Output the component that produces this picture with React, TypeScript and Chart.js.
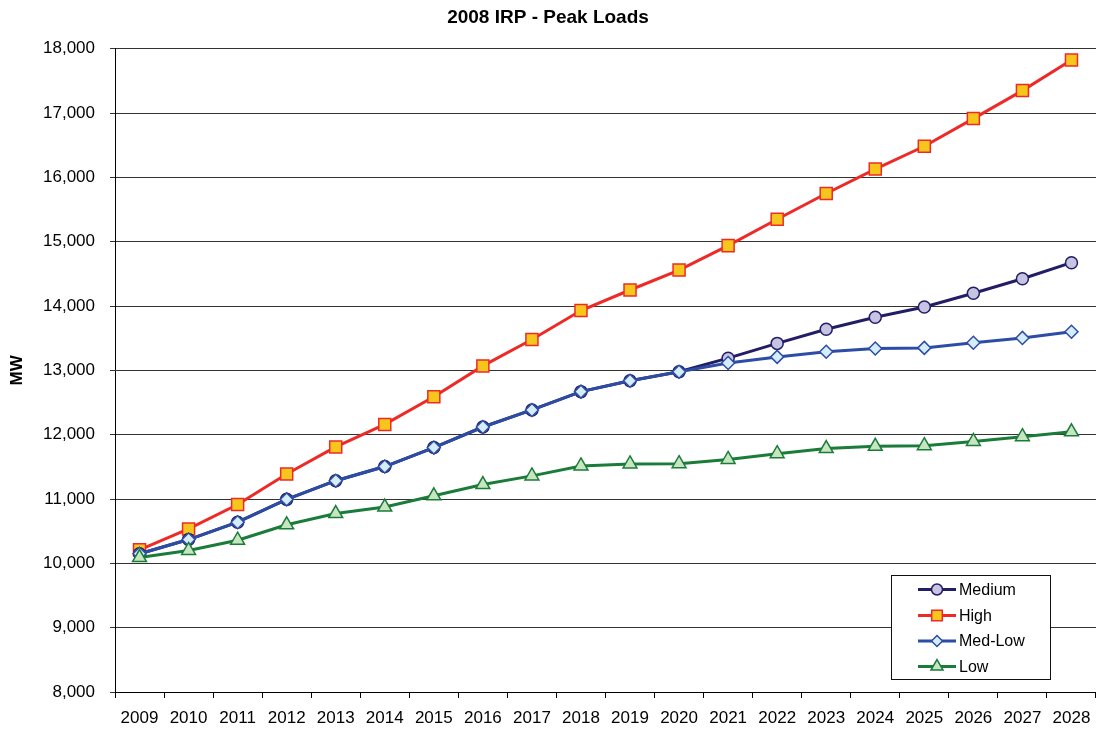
import React, { useEffect, useRef } from "react";
import { Chart, registerables } from "chart.js";

Chart.register(...registerables);

const years = ["2009","2010","2011","2012","2013","2014","2015","2016","2017","2018","2019","2020","2021","2022","2023","2024","2025","2026","2027","2028"];
const medium = [10150,10370,10640,10995,11285,11505,11800,12120,12385,12670,12840,12980,13190,13420,13640,13825,13985,14200,14425,14675];
const high = [10210,10535,10915,11390,11810,12160,12590,13070,13480,13930,14250,14560,14940,15350,15750,16130,16485,16915,17350,17825];
const medLow = [10150,10370,10640,10995,11285,11505,11800,12120,12385,12670,12840,12980,13115,13210,13290,13340,13350,13430,13505,13600];
const low = [10090,10200,10360,10600,10775,10875,11050,11225,11360,11515,11545,11550,11615,11705,11785,11820,11830,11895,11970,12045];

const FONT = "Arial, 'Liberation Sans', sans-serif";

const seriesStyles = [
  { label: "Medium", data: medium, line: "#221E66", fill: "#C6C4E2", border: "#221E66", point: "circle", radius: 6, order: 2 },
  { label: "High", data: high, line: "#EE2A27", fill: "#F7C61C", border: "#EE2A27", point: "rect", radius: 8.5, order: 3 },
  { label: "Med-Low", data: medLow, line: "#2D4CA6", fill: "#D4EDF8", border: "#2D4CA6", point: "rectRot", radius: 6.5, order: 1 },
  { label: "Low", data: low, line: "#1B7C3A", fill: "#C7E5C0", border: "#1B7C3A", point: "triangle", radius: 8, order: 0 },
];

function drawMarker(ctx: CanvasRenderingContext2D, type: string, x: number, y: number, r: number) {
  ctx.beginPath();
  if (type === "circle") {
    ctx.arc(x, y, r, 0, Math.PI * 2);
  } else if (type === "rect") {
    const s = Math.SQRT1_2 * r;
    ctx.rect(x - s, y - s, 2 * s, 2 * s);
  } else if (type === "rectRot") {
    ctx.moveTo(x - r, y);
    ctx.lineTo(x, y - r);
    ctx.lineTo(x + r, y);
    ctx.lineTo(x, y + r);
    ctx.closePath();
  } else if (type === "triangle") {
    const w = r * Math.sin((2 * Math.PI) / 3);
    ctx.moveTo(x, y - r);
    ctx.lineTo(x + w, y + r / 2);
    ctx.lineTo(x - w, y + r / 2);
    ctx.closePath();
  }
  ctx.fill();
  ctx.stroke();
}

const legendPlugin = {
  id: "customLegend",
  afterDraw(chart: any) {
    const ctx = chart.ctx as CanvasRenderingContext2D;
    ctx.save();
    ctx.fillStyle = "#ffffff";
    ctx.fillRect(891.5, 575.5, 159, 104);
    ctx.strokeStyle = "#111";
    ctx.lineWidth = 1;
    ctx.strokeRect(891.5, 575.5, 159, 104);
    const rowY = [589.5, 615.5, 641, 666.5];
    seriesStyles.forEach((s, i) => {
      const y = rowY[i];
      ctx.strokeStyle = s.line;
      ctx.lineWidth = 3;
      ctx.beginPath();
      ctx.moveTo(918, y);
      ctx.lineTo(956, y);
      ctx.stroke();
      ctx.fillStyle = s.fill;
      ctx.strokeStyle = s.border;
      ctx.lineWidth = 1.5;
      drawMarker(ctx, s.point, 937, y, s.point === "rect" ? 7.5 : s.point === "triangle" ? 7 : 5.5);
      ctx.fillStyle = "#000";
      ctx.font = `16px ${FONT}`;
      ctx.textAlign = "left";
      ctx.textBaseline = "middle";
      ctx.fillText(s.label, 959, y + 1);
    });
    ctx.restore();
  },
};

export default function App() {
  const canvasRef = useRef<HTMLCanvasElement | null>(null);

  useEffect(() => {
    document.body.style.margin = "0";
    const canvas = canvasRef.current;
    if (!canvas) return;
    const chart = new Chart(canvas, {
      type: "line",
      data: {
        labels: years,
        datasets: seriesStyles.map((s) => ({
          label: s.label,
          data: s.data,
          borderColor: s.line,
          backgroundColor: s.fill,
          borderWidth: 3,
          pointStyle: s.point as any,
          pointRadius: s.radius,
          pointBackgroundColor: s.fill,
          pointBorderColor: s.border,
          pointBorderWidth: 1.5,
          tension: 0,
          fill: false,
          clip: false,
          order: s.order,
        })),
      },
      options: {
        animation: false,
        responsive: false,
        maintainAspectRatio: false,
        devicePixelRatio: 1,
        layout: { padding: 0, autoPadding: false },
        plugins: {
          legend: { display: false },
          tooltip: { enabled: false },
          title: {
            display: true,
            text: "2008 IRP - Peak Loads",
            color: "#000",
            font: { family: FONT, size: 19, weight: "bold" },
            padding: { top: 6, bottom: 20 },
          },
        },
        scales: {
          x: {
            type: "category",
            offset: true,
            grid: {
              display: true,
              drawOnChartArea: false,
              drawTicks: true,
              tickLength: 6,
              color: "#000",
              offset: true,
            },
            border: { display: true, color: "#000", width: 1 },
            ticks: {
              color: "#000",
              font: { family: FONT, size: 17, lineHeight: 1.8 },
              padding: 5,
              maxRotation: 0,
              autoSkip: false,
            },
            afterFit: (scale: any) => {
              scale.height = 40;
              scale.paddingLeft = 0;
              scale.paddingRight = 0;
            },
          },
          y: {
            type: "linear",
            min: 8000,
            max: 18000,
            grid: {
              color: "#333",
              lineWidth: 1,
              tickLength: 5,
              drawTicks: true,
            },
            border: { display: true, color: "#000", width: 1 },
            ticks: {
              stepSize: 1000,
              color: "#000",
              font: { family: FONT, size: 17 },
              padding: 15,
              callback: (v: any) => Number(v).toLocaleString("en-US"),
            },
            title: {
              display: true,
              text: "MW",
              color: "#000",
              font: { family: FONT, size: 17, weight: "bold" },
              padding: { top: 7, bottom: 0 },
            },
            afterFit: (scale: any) => {
              scale.width = 115;
            },
          },
        },
      },
      plugins: [legendPlugin],
    });
    return () => chart.destroy();
  }, []);

  return (
    <div style={{ width: 1096, height: 732, position: "relative" }}>
      <canvas ref={canvasRef} width={1096} height={732} style={{ width: 1096, height: 732, display: "block" }} />
    </div>
  );
}
